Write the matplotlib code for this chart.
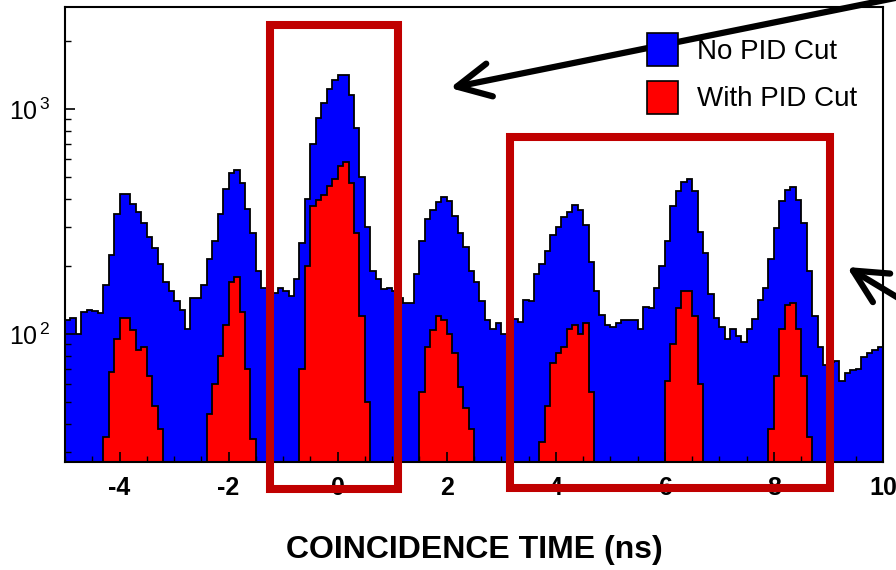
import numpy as np
import matplotlib
matplotlib.use("Agg")
import matplotlib.pyplot as plt
from matplotlib.patches import Patch, Rectangle
from matplotlib.ticker import LogLocator, NullFormatter

plt.rcParams['font.family'] = ['Liberation Sans Narrow', 'Liberation Sans', 'DejaVu Sans']
plt.rcParams['axes.unicode_minus'] = False

# coincidence time histogram, 0.1 ns bins from -5 to 10 ns
bin_edges = np.linspace(-5.0, 10.0, 151)

no_pid_cut = [
    115, 118, 100, 125, 128, 126, 124, 165, 225, 340,
    420, 420, 380, 350, 310, 270, 240, 205, 170, 155,
    140, 128, 105, 145, 145, 165, 215, 260, 340, 440,
    520, 535, 470, 360, 280, 190, 160, 157, 152, 160,
    155, 148, 175, 255, 400, 700, 910, 1060, 1230, 1350,
    1420, 1420, 1150, 820, 500, 300, 190, 175, 158, 160,
    155, 145, 138, 138, 185, 260, 325, 355, 385, 408,
    390, 335, 280, 244, 190, 170, 140, 116, 105, 112,
    100, 110, 117, 113, 142, 140, 185, 205, 235, 275,
    300, 330, 350, 374, 355, 305, 210, 155, 122, 110,
    108, 112, 116, 115, 116, 105, 132, 130, 160, 200,
    260, 370, 430, 475, 490, 430, 285, 230, 150, 118,
    107, 95, 105, 98, 92, 105, 117, 142, 160, 215,
    295, 390, 437, 452, 394, 310, 190, 120, 88, 73,
    75, 76, 62, 67, 69, 70, 79, 82, 85, 88,
]

with_pid_cut = [
    0, 0, 0, 0, 0, 0, 0, 35, 68, 95,
    118, 118, 104, 85, 88, 65, 48, 38, 0, 0,
    0, 0, 0, 0, 0, 0, 44, 60, 80, 110,
    170, 180, 125, 70, 34, 0, 0, 0, 0, 0,
    0, 0, 0, 70, 200, 370, 395, 415, 455, 490,
    560, 580, 470, 280, 120, 50, 0, 0, 0, 0,
    0, 0, 0, 0, 0, 55, 88, 104, 120, 115,
    100, 82, 58, 47, 38, 0, 0, 0, 0, 0,
    0, 0, 0, 0, 0, 0, 0, 33, 48, 74,
    82, 88, 105, 110, 100, 112, 55, 0, 0, 0,
    0, 0, 0, 0, 0, 0, 0, 0, 0, 0,
    62, 90, 130, 155, 155, 120, 60, 0, 0, 0,
    0, 0, 0, 0, 0, 0, 0, 0, 0, 38,
    65, 105, 134, 138, 105, 65, 35, 0, 0, 0,
    0, 0, 0, 0, 0, 0, 0, 0, 0, 0,
]

series_labels = ['No PID Cut', 'With PID Cut']
x_ticks = [-4, -2, 0, 2, 4, 6, 8, 10]
y_ticks = [100, 1000]
y_tick_labels = [r'$\mathregular{10^{\,2}}$', r'$\mathregular{10^{\,3}}$']

W, H = 896, 570
def fx(px):
    return px / W
def fy(py):
    return 1 - py / H

fig = plt.figure(figsize=(W / 100, H / 100), dpi=100)
ax = fig.add_axes([fx(65), fy(462), (883 - 65) / W, (462 - 7) / H])
ax.set_yscale('log')

floor = 1.0
blue = np.array(no_pid_cut, dtype=float)
red = np.array(with_pid_cut, dtype=float)
red = np.where(red > 0, red, floor)

ax.stairs(blue, bin_edges, baseline=floor, fill=True, color='#0000ff')
ax.stairs(blue, bin_edges, baseline=None, color='black', lw=1.3)
ax.stairs(red, bin_edges, baseline=floor, fill=True, color='#ff0000')
ax.stairs(red, bin_edges, baseline=None, color='black', lw=1.3)

ax.set_xlim(-5, 10)
ax.set_ylim(27, 2840)

ax.set_xticks(x_ticks)
ax.set_xticklabels([str(t) for t in x_ticks], fontweight='bold')
ax.set_xticks(np.arange(-5, 10.01, 0.5), minor=True)
ax.set_yticks(y_ticks)
ax.set_yticklabels(y_tick_labels)
ax.yaxis.set_minor_locator(LogLocator(base=10, subs=np.arange(2, 10)))
ax.yaxis.set_minor_formatter(NullFormatter())

ax.tick_params(axis='both', which='major', direction='in', length=7, width=1.2,
               labelsize=18, pad=10)
ax.tick_params(axis='both', which='minor', direction='in', length=4, width=1.0)
for s in ax.spines.values():
    s.set_linewidth(1.5)

ax.set_xlabel('COINCIDENCE TIME (ns)', fontsize=23, fontweight='bold', va='center')
ax.xaxis.set_label_coords(0.5, -(550 - 462) / (462 - 7))

handles = [Patch(facecolor='#0000ff', edgecolor='black', lw=1.2),
           Patch(facecolor='#ff0000', edgecolor='black', lw=1.2)]
fig.legend(handles, series_labels, loc='upper left',
           bbox_to_anchor=(fx(647), fy(33)), frameon=False, fontsize=20,
           handlelength=1.12, handleheight=1.43, handletextpad=0.68,
           labelspacing=0.55, borderpad=0, borderaxespad=0)

# highlight boxes
box_color = '#c00000'
for x0, y0, x1, y1 in [(270, 25, 398, 489), (510, 137, 830, 488)]:
    fig.add_artist(Rectangle((fx(x0), fy(y1)), (x1 - x0) / W, (y1 - y0) / H,
                             transform=fig.transFigure, fill=False,
                             ec=box_color, lw=5.8, zorder=5))

# pointer arrows
arrow_kw = dict(arrowstyle='->,head_length=1.2,head_width=0.6', lw=4.5,
                color='black', mutation_scale=20, shrinkA=0, shrinkB=0,
                capstyle='round', joinstyle='round')
for tip, tail in [((450, 88), (905, -4)), ((847, 267), (905, 302))]:
    ax.annotate('', xy=(fx(tip[0]), fy(tip[1])), xycoords='figure fraction',
                xytext=(fx(tail[0]), fy(tail[1])), textcoords='figure fraction',
                arrowprops=arrow_kw, annotation_clip=False)

fig.savefig('out.png', dpi=100)
